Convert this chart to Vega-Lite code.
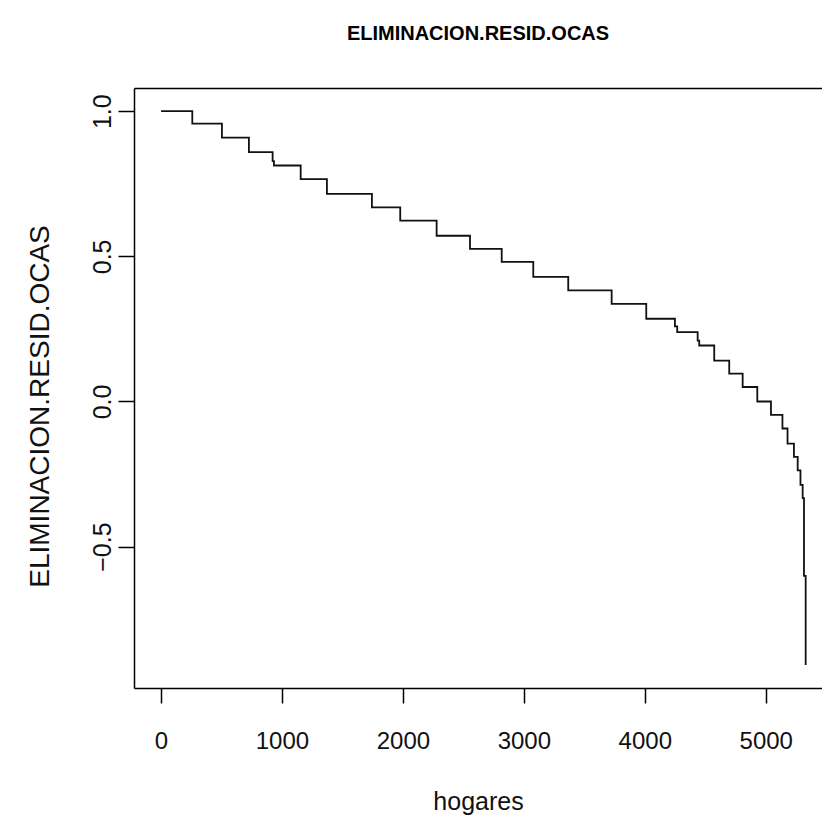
{
  "$schema": "https://vega.github.io/schema/vega-lite/v6.json",
  "width": 688,
  "height": 600,
  "autosize": {"type": "none"},
  "padding": {"left": 134, "top": 88, "right": 0, "bottom": 130},
  "background": "white",
  "config": {
    "view": {"stroke": null},
    "font": "Liberation Sans",
    "axis": {"grid": false, "domainColor": "black", "domainWidth": 1.5, "tickColor": "black", "tickWidth": 1.5, "labelColor": "#111", "titleColor": "#111", "labelFont": "Liberation Sans", "titleFont": "Liberation Sans", "titleFontWeight": "normal"}
  },
  "title": {"text": "ELIMINACION.RESID.OCAS", "font": "Liberation Sans", "fontSize": 20, "fontWeight": "bold", "color": "black", "anchor": "middle", "offset": 44},
  "data": {"values": [
    {"hogares": 1, "resid": 1.0},
    {"hogares": 259, "resid": 0.957},
    {"hogares": 504, "resid": 0.909},
    {"hogares": 727, "resid": 0.859},
    {"hogares": 923, "resid": 0.828},
    {"hogares": 934, "resid": 0.813},
    {"hogares": 1155, "resid": 0.766},
    {"hogares": 1372, "resid": 0.715},
    {"hogares": 1744, "resid": 0.669},
    {"hogares": 1978, "resid": 0.623},
    {"hogares": 2279, "resid": 0.571},
    {"hogares": 2555, "resid": 0.526},
    {"hogares": 2817, "resid": 0.481},
    {"hogares": 3078, "resid": 0.429},
    {"hogares": 3367, "resid": 0.383},
    {"hogares": 3726, "resid": 0.336},
    {"hogares": 4012, "resid": 0.285},
    {"hogares": 4249, "resid": 0.259},
    {"hogares": 4268, "resid": 0.239},
    {"hogares": 4437, "resid": 0.21},
    {"hogares": 4450, "resid": 0.193},
    {"hogares": 4574, "resid": 0.141},
    {"hogares": 4698, "resid": 0.096},
    {"hogares": 4809, "resid": 0.05},
    {"hogares": 4930, "resid": 0.0},
    {"hogares": 5043, "resid": -0.046},
    {"hogares": 5138, "resid": -0.093},
    {"hogares": 5180, "resid": -0.145},
    {"hogares": 5233, "resid": -0.191},
    {"hogares": 5264, "resid": -0.237},
    {"hogares": 5287, "resid": -0.287},
    {"hogares": 5305, "resid": -0.333},
    {"hogares": 5316, "resid": -0.601},
    {"hogares": 5330, "resid": -0.908}
  ]},
  "layer": [
    {
      "mark": {"type": "line", "interpolate": "step-after", "color": "#111", "strokeWidth": 1.8},
      "encoding": {
        "x": {"field": "hogares", "type": "quantitative", "scale": {"domain": [-223, 5465], "nice": false, "zero": false},
          "axis": {"orient": "bottom", "title": "hogares", "values": [0, 1000, 2000, 3000, 4000, 5000], "format": "d", "tickSize": 15, "labelFontSize": 24, "labelPadding": 26, "titleFontSize": 25, "titlePadding": 36, "labelFlush": false}},
        "y": {"field": "resid", "type": "quantitative", "scale": {"domain": [-0.987, 1.08], "nice": false, "zero": false},
          "axis": {"title": "ELIMINACION.RESID.OCAS", "values": [-0.5, 0, 0.5, 1], "format": ".1f", "tickSize": 16, "labelAngle": 270, "labelAlign": "center", "labelBaseline": "bottom", "labelFontSize": 25, "labelPadding": 3, "titleFontSize": 28, "titlePadding": 36, "titleY": 318, "labelFlush": false}}
      }
    },
    {
      "mark": {"type": "line", "opacity": 0},
      "encoding": {
        "x": {"field": "hogares", "type": "quantitative", "axis": {"orient": "top", "labels": false, "ticks": false, "title": null}},
        "y": {"field": "resid", "type": "quantitative"}
      }
    }
  ],
  "resolve": {"axis": {"x": "independent"}}
}
